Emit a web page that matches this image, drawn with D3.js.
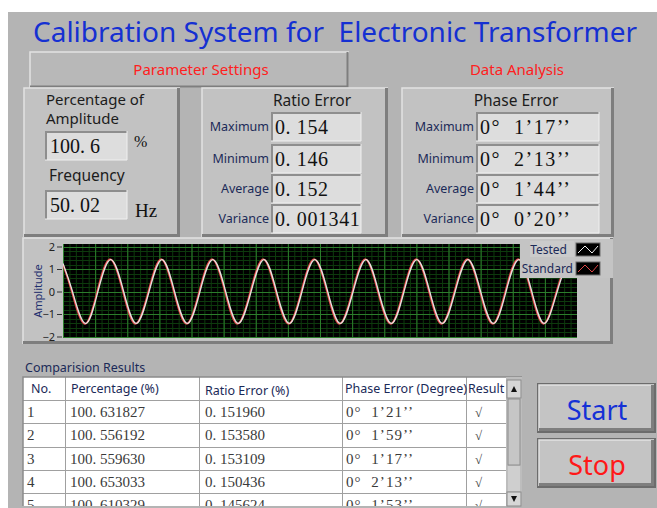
<!DOCTYPE html>
<html>
<head>
<meta charset="utf-8">
<script src="https://d3js.org/d3.v7.min.js"></script>
<style>
  body { margin: 0; background: #fff; }
  svg { display: block; }
  text { white-space: pre; }
  .sans { font-family: "Noto Sans", "Open Sans", sans-serif; }
  .serif { font-family: "Liberation Serif", "DejaVu Serif", serif; }
</style>
</head>
<body>
<svg id="panel" width="657" height="508"></svg>
<script>
// ---- values ----
var titleText = "Calibration System for  Electronic Transformer";
var tabNames = ["Parameter Settings", "Data Analysis"];
var amplitudeValue = "100. 6";
var frequencyValue = "50. 02";
var statLabels = ["Maximum", "Minimum", "Average", "Variance"];
var ratioErrorValues = ["0. 154", "0. 146", "0. 152", "0. 001341"];
var phaseErrorValues = ["0°  1’17’’", "0°  2’13’’", "0°  1’44’’", "0°  0’20’’"];
var yTicks = [-2, -1, 0, 1, 2];
var seriesNames = ["Tested", "Standard"];

// waveform samples (time in ms, amplitude)
var standardTime = [0, 3.4, 8.4, 13.3, 18.3, 23.3, 28.2, 33.2, 38.2, 43.1, 48.1, 53.0, 58.0, 63.0,
  67.9, 72.9, 77.9, 82.8, 87.8, 92.7, 97.7, 102.7, 107.6, 112.6, 117.6, 122.5, 127.5, 132.4,
  137.4, 142.4, 147.3, 152.3, 157.3, 162.2, 167.2, 172.1, 177.1, 182.1, 187.0, 192.0, 197.0, 200];
var standardValue = [1.20, 0, -1.44, 0, 1.44, 0, -1.44, 0, 1.44, 0, -1.44, 0, 1.44, 0,
  -1.44, 0, 1.44, 0, -1.44, 0, 1.44, 0, -1.44, 0, 1.44, 0, -1.44, 0,
  1.44, 0, -1.44, 0, 1.44, 0, -1.44, 0, 1.44, 0, -1.44, 0, 1.44, 0.84];
var testedTime = [0, 3.7, 8.7, 13.6, 18.6, 23.6, 28.5, 33.5, 38.5, 43.4, 48.4, 53.3, 58.3, 63.3,
  68.2, 73.2, 78.2, 83.1, 88.1, 93.0, 98.0, 103.0, 107.9, 112.9, 117.9, 122.8, 127.8, 132.7,
  137.7, 142.7, 147.6, 152.6, 157.6, 162.5, 167.5, 172.4, 177.4, 182.4, 187.3, 192.3, 197.3, 200];
var testedValue = [1.25, 0, -1.42, 0, 1.42, 0, -1.42, 0, 1.42, 0, -1.42, 0, 1.42, 0,
  -1.42, 0, 1.42, 0, -1.42, 0, 1.42, 0, -1.42, 0, 1.42, 0, -1.42, 0,
  1.42, 0, -1.42, 0, 1.42, 0, -1.42, 0, 1.42, 0, -1.42, 0, 1.42, 0.90];

// comparison table
var tableHeaders = ["No.", "Percentage (%)", "Ratio Error (%)", "Phase Error (Degree)", "Result"];
var rowNo = ["1", "2", "3", "4", "5"];
var rowPercentage = ["100. 631827", "100. 556192", "100. 559630", "100. 653033", "100. 610329"];
var rowRatioError = ["0. 151960", "0. 153580", "0. 153109", "0. 150436", "0. 145624"];
var rowPhaseError = ["0°  1’21’’", "0°  1’59’’", "0°  1’17’’", "0°  2’13’’", "0°  1’53’’"];
var rowResult = ["√", "√", "√", "√", "√"];
var buttonNames = ["Start", "Stop"];

var svg = d3.select("#panel");
var navy = "#1b2a58";

// panel background
svg.append("rect").attr("x", 8).attr("y", 12).attr("width", 649).attr("height", 496).attr("fill", "#b4b4b4");

// raised LabVIEW style box
function raised(x, y, w, h, fill, edge) {
  var g = svg.append("g");
  g.append("rect").attr("x", x).attr("y", y).attr("width", w).attr("height", h).attr("fill", fill);
  g.append("path").attr("d", "M" + x + "," + (y + h) + "V" + y + "H" + (x + w))
    .attr("fill", "none").attr("stroke", "#e2e2e2").attr("stroke-width", 1.5);
  g.append("path").attr("d", "M" + (x + w - 1.5) + "," + y + "V" + (y + h - 1.5) + "H" + x)
    .attr("fill", "none").attr("stroke", "#7e7e7e").attr("stroke-width", edge || 3);
  return g;
}
// sunken numeric field
function sunken(g, x, y, w, h, fill) {
  g.append("rect").attr("x", x).attr("y", y).attr("width", w).attr("height", h).attr("fill", fill);
  g.append("path").attr("d", "M" + (x + 1) + "," + (y + h) + "V" + (y + 1) + "H" + (x + w))
    .attr("fill", "none").attr("stroke", "#8e8e8e").attr("stroke-width", 2);
  g.append("path").attr("d", "M" + (x + w) + "," + y + "V" + (y + h) + "H" + x)
    .attr("fill", "none").attr("stroke", "#efefef").attr("stroke-width", 1);
}

// title
svg.append("text").attr("class", "sans").attr("x", 33).attr("y", 42)
  .attr("font-size", 28).attr("fill", "#1530d2")
  .attr("textLength", 604).attr("lengthAdjust", "spacingAndGlyphs")
  .text(titleText);

// tabs
raised(30, 52, 319, 36, "#b8b8b8", 2);
svg.selectAll(".tab").data(tabNames).enter().append("text")
  .attr("class", "sans").attr("x", function(d, i) { return i == 0 ? 201 : 517; })
  .attr("y", 75).attr("text-anchor", "middle").attr("font-size", 15).attr("fill", "#ff2020")
  .text(function(d) { return d; });

// left cluster: amplitude and frequency
var left = raised(24, 88, 156, 149, "#c2c2c2", 3);
left.append("text").attr("class", "sans").attr("x", 46).attr("y", 105).attr("font-size", 15).attr("fill", "#1c1c1c").text("Percentage of");
left.append("text").attr("class", "sans").attr("x", 46).attr("y", 124).attr("font-size", 15).attr("fill", "#1c1c1c").text("Amplitude");
sunken(left, 45, 131, 82, 29, "#dddddd");
left.append("text").attr("class", "serif").attr("x", 50).attr("y", 153).attr("font-size", 20).attr("fill", "#111").text(amplitudeValue);
left.append("text").attr("class", "serif").attr("x", 134).attr("y", 147).attr("font-size", 16).attr("fill", "#111").text("%");
left.append("text").attr("class", "sans").attr("x", 49).attr("y", 181).attr("font-size", 15.5).attr("fill", "#1c1c1c").text("Frequency");
sunken(left, 45, 190, 82, 29, "#dddddd");
left.append("text").attr("class", "serif").attr("x", 50).attr("y", 212).attr("font-size", 20).attr("fill", "#111").text(frequencyValue);
left.append("text").attr("class", "serif").attr("x", 135).attr("y", 217).attr("font-size", 19).attr("fill", "#111").text("Hz");

// stat clusters
var boxY = [112, 144, 174, 204];
function statCluster(x0, w, title, titleX, labelX, boxX, boxW, values, useLength) {
  var g = raised(x0, 88, w, 149, "#c2c2c2", 3);
  g.append("text").attr("class", "sans").attr("x", titleX).attr("y", 106).attr("text-anchor", "middle")
    .attr("font-size", 15.5).attr("fill", "#1c1c1c").text(title);
  var clipId = "clip" + x0;
  svg.append("clipPath").attr("id", clipId).append("rect")
    .attr("x", boxX).attr("y", 100).attr("width", boxW - 1).attr("height", 140);
  statLabels.forEach(function(lab, i) {
    g.append("text").attr("class", "sans").attr("x", labelX).attr("y", boxY[i] + 19)
      .attr("text-anchor", "end").attr("font-size", 12.5).attr("fill", navy).text(lab);
    sunken(g, boxX, boxY[i], boxW, 29, "#dddddd");
    var t = g.append("text").attr("class", "serif").attr("x", boxX + 4).attr("y", boxY[i] + 22)
      .attr("font-size", 20).attr("fill", "#111").attr("clip-path", "url(#" + clipId + ")")
      .text(values[i]);
    if (useLength) t.attr("textLength", 90).attr("lengthAdjust", "spacing");
    else t.attr("letter-spacing", 0.6);
  });
}
statCluster(202, 186, "Ratio Error", 312, 269, 271, 90, ratioErrorValues, false);
statCluster(402, 212, "Phase Error", 516, 474, 476, 123, phaseErrorValues, true);

// waveform graph
raised(23, 238, 590, 106, "#c2c2c2", 3);
var plot = { left: 63, right: 577, top: 244, bottom: 338 };
var x = d3.scaleLinear().domain([0, 200]).range([plot.left, plot.right]);
var y = d3.scaleLinear().domain([-2, 2]).range([336.5, 246.5]);

svg.append("rect").attr("x", plot.left).attr("y", plot.top)
  .attr("width", plot.right - plot.left).attr("height", plot.bottom - plot.top).attr("fill", "#000");
svg.append("clipPath").attr("id", "plotclip").append("rect")
  .attr("x", plot.left).attr("y", plot.top).attr("width", plot.right - plot.left).attr("height", plot.bottom - plot.top);

var grid = svg.append("g").attr("clip-path", "url(#plotclip)");
grid.selectAll(".vminor").data(d3.range(0, 200.01, 2.5)).enter().append("line")
  .attr("x1", function(d) { return x(d) + 0.5; }).attr("x2", function(d) { return x(d) + 0.5; })
  .attr("y1", plot.top).attr("y2", plot.bottom).attr("stroke", "#0d3a0d").attr("stroke-width", 1);
grid.selectAll(".hminor").data(d3.range(-2, 2.01, 0.2)).enter().append("line")
  .attr("y1", function(d) { return Math.round(y(d)) + 0.5; }).attr("y2", function(d) { return Math.round(y(d)) + 0.5; })
  .attr("x1", plot.left).attr("x2", plot.right).attr("stroke", "#0d3a0d").attr("stroke-width", 1);
grid.selectAll(".vmajor").data(d3.range(0, 200.01, 12.5)).enter().append("line")
  .attr("x1", function(d) { return x(d) + 0.5; }).attr("x2", function(d) { return x(d) + 0.5; })
  .attr("y1", plot.top).attr("y2", plot.bottom).attr("stroke", "#2c7d2c").attr("stroke-width", 1);
grid.selectAll(".hmajor").data(yTicks).enter().append("line")
  .attr("y1", function(d) { return Math.round(y(d)) + 0.5; }).attr("y2", function(d) { return Math.round(y(d)) + 0.5; })
  .attr("x1", plot.left).attr("x2", plot.right).attr("stroke", "#2c7d2c").attr("stroke-width", 1);

var line = d3.line().x(function(d) { return x(d[0]); }).y(function(d) { return y(d[1]); }).curve(d3.curveNatural);
var standard = d3.zip(standardTime, standardValue);
var tested = d3.zip(testedTime, testedValue);
grid.append("path").datum(standard).attr("d", line).attr("fill", "none").attr("stroke", "#e04848").attr("stroke-width", 1.6);
grid.append("path").datum(tested).attr("d", line).attr("fill", "none").attr("stroke", "#f2f2f2").attr("stroke-width", 1.3).attr("opacity", 0.9);

var yAxis = svg.append("g").attr("transform", "translate(" + (plot.left - 1) + ",0)")
  .call(d3.axisLeft(y).tickValues(yTicks).tickSize(5).tickPadding(2).tickFormat(d3.format("d")));
yAxis.select(".domain").remove();
yAxis.selectAll("line").attr("stroke", "#333");
yAxis.selectAll("text").attr("class", "sans").attr("font-size", 11).attr("fill", "#222");

svg.append("text").attr("class", "sans").attr("transform", "translate(42,291) rotate(-90)")
  .attr("text-anchor", "middle").attr("font-size", 11).attr("fill", "#1e2f6e").text("Amplitude");

// legend
var legend = svg.append("g");
legend.append("rect").attr("x", 520).attr("y", 239).attr("width", 93).attr("height", 39).attr("fill", "#c4c4c4");
legend.append("rect").attr("x", 530).attr("y", 241).attr("width", 44).attr("height", 16).attr("fill", "#cbcbcb");
var swatchColors = ["#f2f2f2", "#e04848"];
var legendRight = [567, 573];
seriesNames.forEach(function(name, i) {
  var ly = 243 + i * 19;
  legend.append("text").attr("class", "sans").attr("x", legendRight[i]).attr("y", ly + 11)
    .attr("text-anchor", "end").attr("font-size", 12).attr("fill", navy).text(name);
  legend.append("rect").attr("x", 576).attr("y", ly).attr("width", 24).attr("height", 13)
    .attr("fill", "#000").attr("stroke", "#6a6a6a");
  legend.append("path").attr("d", "M578," + (ly + 10) + "L585," + (ly + 3) + "L592," + (ly + 10) + "L598," + (ly + 3))
    .attr("fill", "none").attr("stroke", swatchColors[i]).attr("stroke-width", 1);
});

// comparison results table
svg.append("text").attr("class", "sans").attr("x", 25).attr("y", 372).attr("font-size", 12.5).attr("fill", navy).text("Comparision Results");

var colX = [23, 65, 199, 342, 466, 506];
var headerTop = 377, headerH = 23, rowH = 23.3, tableBottom = 506;
svg.append("clipPath").attr("id", "tableclip").append("rect")
  .attr("x", 23).attr("y", headerTop).attr("width", 499).attr("height", tableBottom - headerTop);
var table = svg.append("g").attr("clip-path", "url(#tableclip)");
table.append("rect").attr("x", colX[0]).attr("y", headerTop).attr("width", colX[5] - colX[0])
  .attr("height", tableBottom - headerTop).attr("fill", "#fff");

var rows = rowNo.map(function(n, i) {
  return [n, rowPercentage[i], rowRatioError[i], rowPhaseError[i], rowResult[i]];
});
var rowTop = function(i) { return headerTop + headerH + i * rowH; };

// row separators
table.selectAll(".hline").data(d3.range(rows.length)).enter().append("line")
  .attr("x1", colX[0]).attr("x2", colX[5])
  .attr("y1", function(i) { return Math.round(rowTop(i)) + 0.5; })
  .attr("y2", function(i) { return Math.round(rowTop(i)) + 0.5; })
  .attr("stroke", "#a0a0a0");
table.selectAll(".vline").data(colX.slice(1, 5)).enter().append("line")
  .attr("x1", function(d) { return d + 0.5; }).attr("x2", function(d) { return d + 0.5; })
  .attr("y1", headerTop).attr("y2", tableBottom).attr("stroke", "#a0a0a0");

var headerX = [31, 71, 205, 345, 468];
table.selectAll(".hdr").data(tableHeaders).enter().append("text")
  .attr("class", "sans").attr("x", function(d, i) { return headerX[i]; })
  .attr("y", function(d, i) { return i == 2 ? 395 : 393; })
  .attr("font-size", 12.5).attr("fill", navy).text(function(d) { return d; });

var cellX = [27, 70, 205, 346, 475];
rows.forEach(function(r, i) {
  r.forEach(function(v, j) {
    var t = table.append("text").attr("class", "serif").attr("x", cellX[j]).attr("y", rowTop(i) + 17)
      .attr("font-size", j == 4 ? 13 : 15).attr("fill", "#3a3a3a").text(v);
    if (j == 3) t.attr("textLength", 67).attr("lengthAdjust", "spacing");
  });
});

// table frame
svg.append("path").attr("d", "M23," + tableBottom + "V" + headerTop + "H522")
  .attr("fill", "none").attr("stroke", "#8a8a8a").attr("stroke-width", 1.5);

// scrollbar
var sb = svg.append("g");
sb.append("rect").attr("x", 506).attr("y", headerTop).attr("width", 16).attr("height", tableBottom - headerTop).attr("fill", "#bdbdbd");
[[380, 18], [492, 14]].forEach(function(b, k) {
  sb.append("rect").attr("x", 507).attr("y", b[0]).attr("width", 14).attr("height", b[1])
    .attr("fill", "#d6d6d6").attr("stroke", "#8a8a8a");
  var cy = b[0] + b[1] / 2;
  sb.append("path").attr("d", k == 0
      ? "M511," + (cy + 3) + "L514," + (cy - 3) + "L517," + (cy + 3) + "Z"
      : "M511," + (cy - 3) + "L514," + (cy + 3) + "L517," + (cy - 3) + "Z")
    .attr("fill", "#111");
});
sb.append("rect").attr("x", 508).attr("y", 399).attr("width", 12).attr("height", 66)
  .attr("fill", "#c6c6c6").attr("stroke", "#8e8e8e");
sb.append("rect").attr("x", 508).attr("y", 466).attr("width", 12).attr("height", 25).attr("fill", "#cfcfcf");

// buttons
var buttonColors = ["#1531d6", "#ff1818"];
buttonNames.forEach(function(name, i) {
  var by = 383 + i * 55;
  svg.append("rect").attr("x", 537).attr("y", by).attr("width", 119).attr("height", 50)
    .attr("fill", "#6c6c6c");
  raised(539, by + 2, 115, 46, "#c4c4c4", 3);
  svg.append("text").attr("class", "sans").attr("x", 597).attr("y", by + 37)
    .attr("text-anchor", "middle").attr("font-size", 27).attr("fill", buttonColors[i]).text(name);
});
</script>
</body>
</html>
